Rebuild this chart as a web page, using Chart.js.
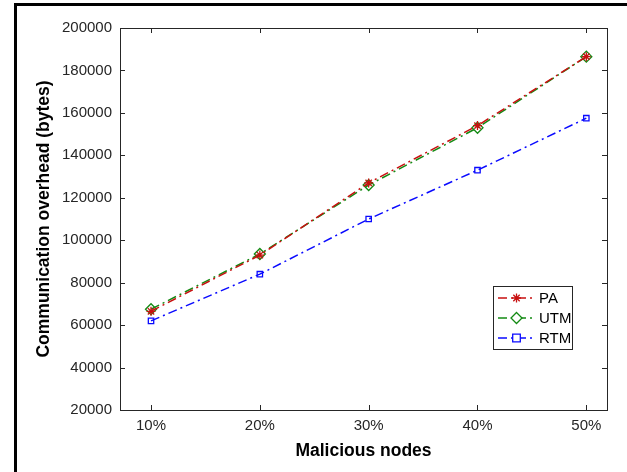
<!DOCTYPE html>
<html>
<head>
<meta charset="utf-8">
<script src="https://cdn.jsdelivr.net/npm/chart.js@4"></script>
<style>
  html, body { margin: 0; padding: 0; background: #ffffff; }
  #wrap { width: 627px; height: 472px; }
</style>
</head>
<body>
<div id="wrap"><canvas id="chart" width="627" height="472"></canvas></div>
<script>
// Data
var categories = ['10%', '20%', '30%', '40%', '50%'];
var xPositions = [1, 2, 3, 4, 5];
var paValues = [66500, 93000, 127000, 154000, 186500];
var utmValues = [67500, 93500, 126000, 153000, 186500];
var rtmValues = [62000, 84000, 110000, 133000, 157500];
var seriesNames = ['PA', 'UTM', 'RTM'];
var yTicks = [20000, 40000, 60000, 80000, 100000, 120000, 140000, 160000, 180000, 200000];

var axisColor = '#262626';
var seriesColors = ['#c81010', '#138a13', '#0a0aff'];
var dashPattern = [9, 4, 2, 4];
var fontFamily = '"Liberation Sans", Arial, sans-serif';

function toPoints(values) {
	return values.map(function(v, i) {
		return { x: xPositions[i], y: v };
	});
}

// Marker drawing for the legend (same shapes as the plot)
function drawMarker(ctx, style, x, y, color) {
	ctx.save();
	ctx.setLineDash([]);
	ctx.strokeStyle = color;
	ctx.lineWidth = 1.3;
	ctx.beginPath();
	if (style === 'star') {
		var r = 4.5, d = r * Math.SQRT1_2;
		ctx.moveTo(x - r, y); ctx.lineTo(x + r, y);
		ctx.moveTo(x, y - r); ctx.lineTo(x, y + r);
		ctx.moveTo(x - d, y - d); ctx.lineTo(x + d, y + d);
		ctx.moveTo(x - d, y + d); ctx.lineTo(x + d, y - d);
	} else if (style === 'rectRot') {
		var r2 = 5.5;
		ctx.fillStyle = '#ffffff';
		ctx.moveTo(x, y - r2); ctx.lineTo(x + r2, y); ctx.lineTo(x, y + r2); ctx.lineTo(x - r2, y); ctx.closePath();
		ctx.fill();
	} else {
		var r3 = 3.8;
		ctx.fillStyle = '#ffffff';
		ctx.rect(x - r3, y - r3, r3 * 2, r3 * 2);
		ctx.fill();
	}
	ctx.stroke();
	ctx.restore();
}

var pointStyles = ['star', 'rectRot', 'rect'];

// Frame, axis box, inward ticks and legend
var matlabLook = {
	id: 'matlabLook',
	beforeDraw: function(chart) {
		var ctx = chart.ctx;
		ctx.save();
		ctx.fillStyle = '#ffffff';
		ctx.fillRect(0, 0, chart.width, chart.height);
		ctx.fillStyle = '#000000';
		ctx.fillRect(14, 3, chart.width - 14, 3);
		ctx.fillRect(14, 3, 3, chart.height - 3);
		ctx.restore();
	},
	afterDraw: function(chart) {
		var ctx = chart.ctx;
		var a = chart.chartArea;
		var xs = chart.scales.x, ys = chart.scales.y;
		var tl = 5;
		ctx.save();
		ctx.strokeStyle = axisColor;
		ctx.lineWidth = 1;
		ctx.setLineDash([]);
		ctx.strokeRect(Math.round(a.left) + 0.5, Math.round(a.top) + 0.5, Math.round(a.right - a.left), Math.round(a.bottom - a.top));
		ctx.beginPath();
		xPositions.forEach(function(v) {
			var px = Math.round(xs.getPixelForValue(v)) + 0.5;
			ctx.moveTo(px, a.bottom); ctx.lineTo(px, a.bottom - tl);
			ctx.moveTo(px, a.top); ctx.lineTo(px, a.top + tl);
		});
		yTicks.forEach(function(v) {
			var py = Math.round(ys.getPixelForValue(v)) + 0.5;
			ctx.moveTo(a.left, py); ctx.lineTo(a.left + tl, py);
			ctx.moveTo(a.right, py); ctx.lineTo(a.right - tl, py);
		});
		ctx.stroke();

		// legend box
		var bx = 493.5, by = 286.5, bw = 79, bh = 63;
		ctx.fillStyle = '#ffffff';
		ctx.fillRect(bx, by, bw, bh);
		ctx.strokeStyle = axisColor;
		ctx.strokeRect(bx, by, bw, bh);
		ctx.font = '15px ' + fontFamily;
		ctx.textAlign = 'left';
		ctx.textBaseline = 'middle';
		seriesNames.forEach(function(name, i) {
			var y = 298 + i * 20;
			ctx.strokeStyle = seriesColors[i];
			ctx.lineWidth = 1.5;
			ctx.setLineDash(dashPattern);
			ctx.beginPath();
			ctx.moveTo(498, y); ctx.lineTo(536, y);
			ctx.stroke();
			drawMarker(ctx, pointStyles[i], 516.5, y, seriesColors[i]);
			ctx.fillStyle = '#000000';
			ctx.fillText(name, 539, y + 1);
		});
		ctx.restore();
	}
};

var seriesValues = [paValues, utmValues, rtmValues];
var datasets = seriesNames.map(function(name, i) {
	return {
		label: name,
		data: toPoints(seriesValues[i]),
		borderColor: seriesColors[i],
		backgroundColor: i === 0 ? seriesColors[i] : 'rgba(255,255,255,0)',
		borderWidth: 1.5,
		borderDash: dashPattern,
		pointStyle: pointStyles[i],
		pointRadius: i === 0 ? 4.5 : (i === 1 ? 5.5 : 3.8),
		pointBorderWidth: 1.3,
		pointBorderColor: seriesColors[i],
		pointBackgroundColor: 'rgba(255,255,255,0)',
		tension: 0,
		fill: false,
		order: i
	};
});

var ctx = document.getElementById('chart').getContext('2d');
var chart = new Chart(ctx, {
	type: 'line',
	data: { datasets: datasets },
	options: {
		responsive: false,
		animation: false,
		layout: { padding: { top: 28, right: 20, left: 0, bottom: 0 } },
		plugins: {
			legend: { display: false },
			tooltip: { enabled: false }
		},
		scales: {
			x: {
				type: 'linear',
				min: 0.715,
				max: 5.19,
				afterBuildTicks: function(scale) {
					scale.ticks = xPositions.map(function(v) { return { value: v }; });
				},
				afterFit: function(scale) { scale.height = 62; },
				grid: { display: false, drawTicks: false },
				border: { display: false },
				ticks: {
					padding: 7,
					color: axisColor,
					font: { family: fontFamily, size: 15 },
					maxRotation: 0,
					callback: function(value) { return categories[xPositions.indexOf(value)]; }
				},
				title: {
					display: true,
					text: 'Malicious nodes',
					color: '#000000',
					font: { family: fontFamily, size: 17.5, weight: 'bold' },
					padding: { top: 0, bottom: 10 }
				}
			},
			y: {
				min: 20000,
				max: 200000,
				afterBuildTicks: function(scale) {
					scale.ticks = yTicks.map(function(v) { return { value: v }; });
				},
				afterFit: function(scale) { scale.width = 120; },
				grid: { display: false, drawTicks: false },
				border: { display: false },
				ticks: {
					padding: 8,
					color: axisColor,
					font: { family: fontFamily, size: 15 },
					callback: function(value) { return String(value); }
				},
				title: {
					display: true,
					text: 'Communication overhead (bytes)',
					color: '#000000',
					font: { family: fontFamily, size: 17.5, weight: 'bold' },
					padding: { top: 34, bottom: 0 }
				}
			}
		}
	},
	plugins: [matlabLook]
});
</script>
</body>
</html>
